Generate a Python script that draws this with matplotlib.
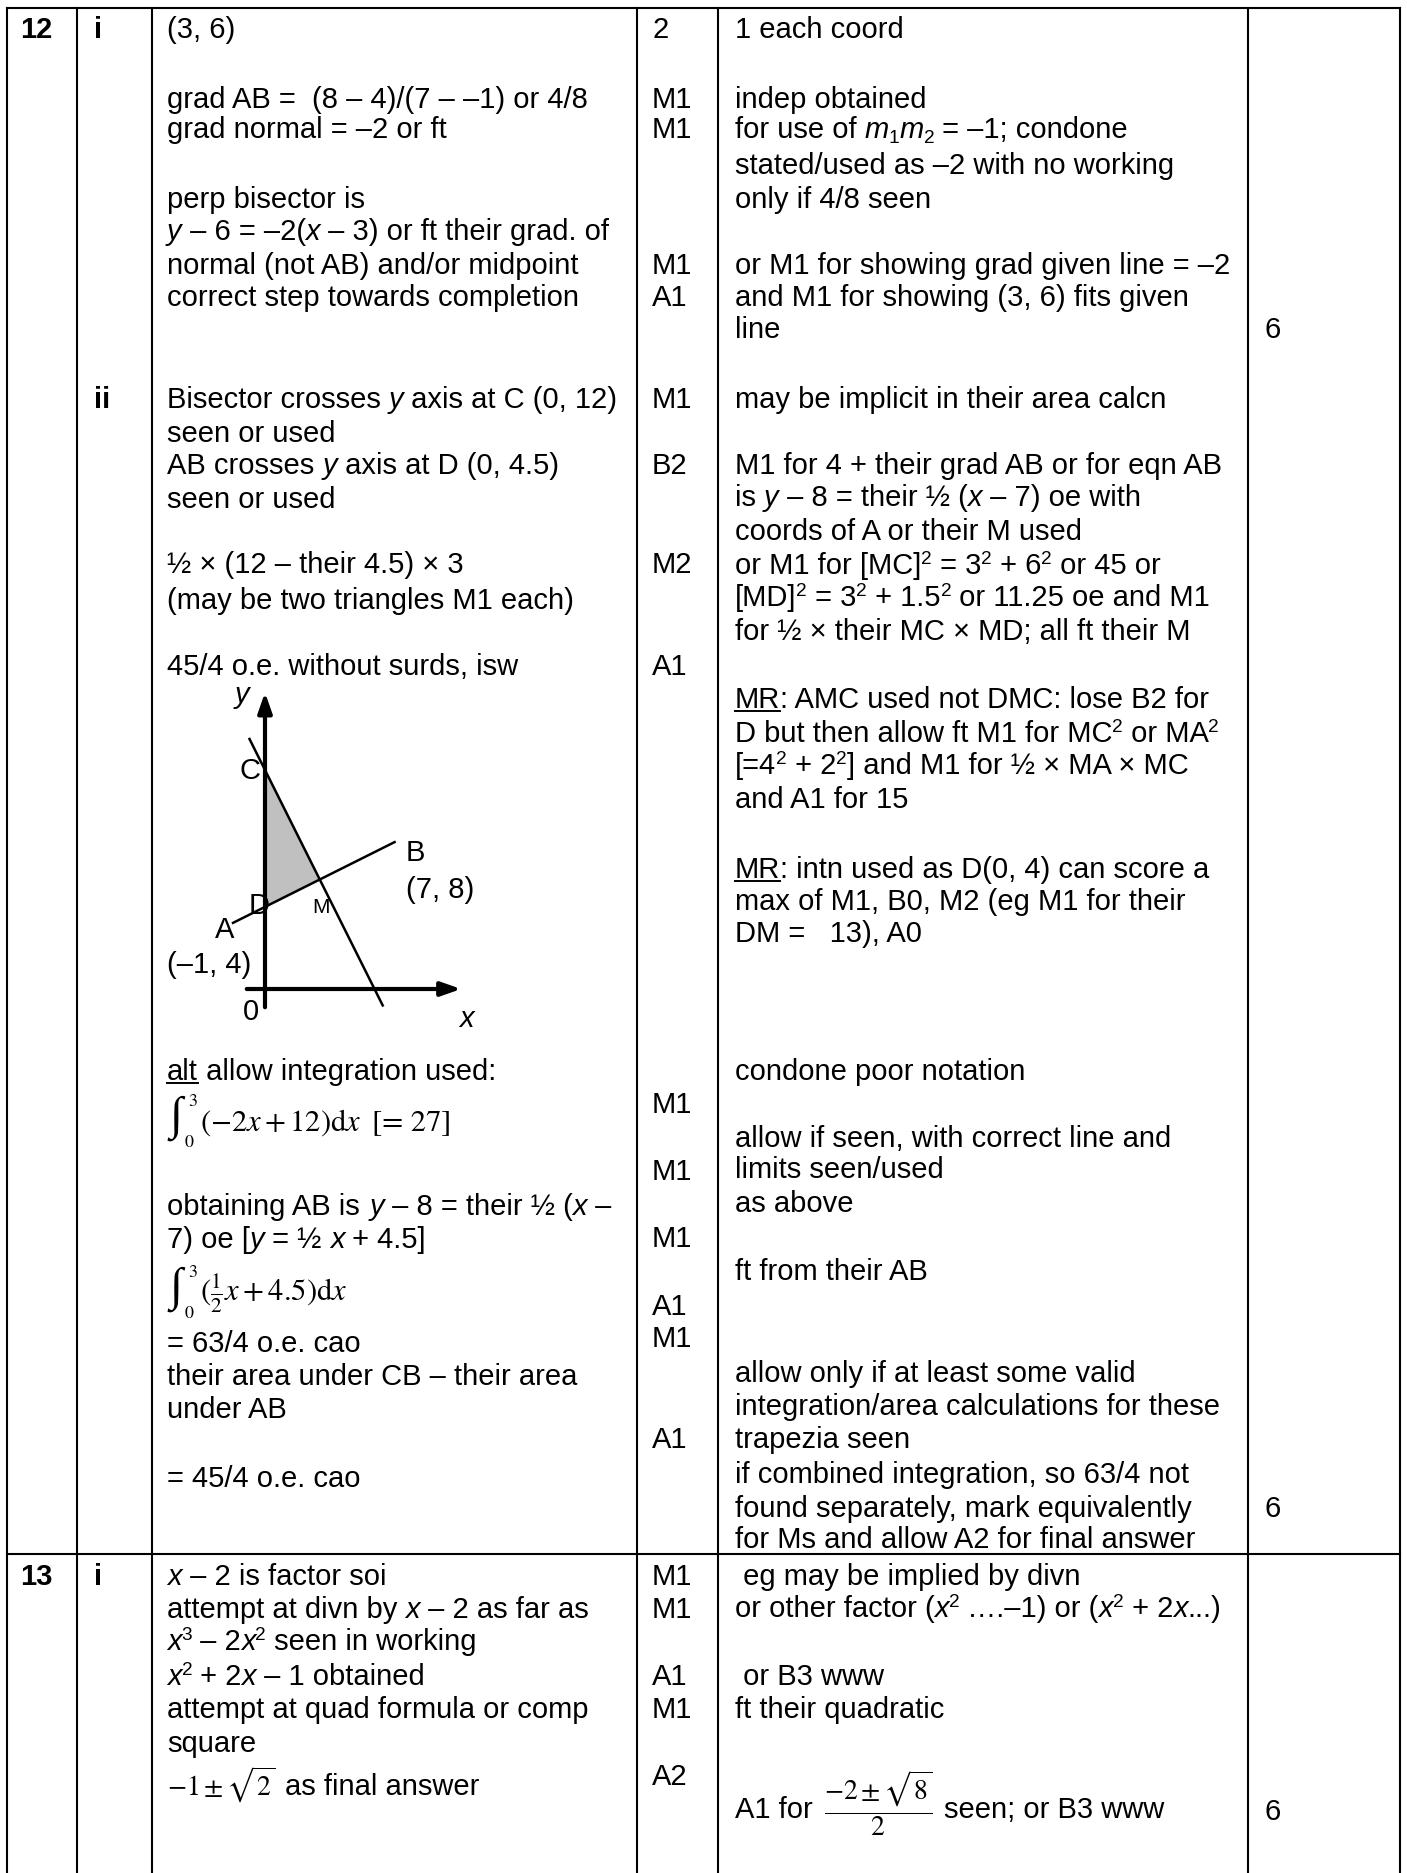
import re

import matplotlib
matplotlib.use("Agg")
import matplotlib.pyplot as plt
from matplotlib.font_manager import FontProperties, findfont
from matplotlib.ft2font import FT2Font

W, H, DPI = 1407, 1874, 100
FAMILY = "Liberation Sans"
SERIF = "STIXGeneral"
FS = 21                      # body text size (pt)
EM = FS * DPI / 72           # em in pixels
BASE = 0.36 * EM             # visual line centre -> baseline

# table grid (pixels)
COL_X = [7, 77, 152, 637, 718, 1248, 1400]
TOP_Y, ROW_SPLIT = 9, 1555
TEXT_X = [20, 94, 167, 652, 735, 1264]

# ---- cell contents: (line centre y, markup) ----------------------------
# markup: {i:..} italic, {^:..} superscript, {_:..} subscript, {u:..} underline
QNUM = [(28, "12"), (1575, "13")]
PART = [(28, "i"), (397, "ii"), (1575, "i")]

ANSWER = [
    (28, "(3, 6)"),
    (97, "grad AB =  (8 – 4)/(7 – –1) or 4/8"),
    (128, "grad normal = –2 or ft"),
    (197, "perp bisector is"),
    (230, "{i:y} – 6 = –2({i:x} – 3) or ft their grad. of"),
    (263, "normal (not AB) and/or midpoint"),
    (295, "correct step towards completion"),
    (397, "Bisector crosses {i:y} axis at C (0, 12)"),
    (431, "seen or used"),
    (463, "AB crosses {i:y} axis at D (0, 4.5)"),
    (498, "seen or used"),
    (563, "½ × (12 – their 4.5) × 3"),
    (599, "(may be two triangles M1 each)"),
    (665, "45/4 o.e. without surds, isw"),
    (1070, "{u:alt} allow integration used:"),
    (1205, "obtaining AB is {i:y} – 8 = their ½ ({i:x} –"),
    (1238, "7) oe [{i:y} = ½ {i:x} + 4.5]"),
    (1342, "= 63/4 o.e. cao"),
    (1375, "their area under CB – their area"),
    (1408, "under AB"),
    (1477, "= 45/4 o.e. cao"),
    (1575, "{i:x} – 2 is factor soi"),
    (1608, "attempt at divn by {i:x} – 2 as far as"),
    (1640, "{i:x}{^:3} – 2{i:x}{^:2} seen in working"),
    (1675, "{i:x}{^:2} + 2{i:x} – 1 obtained"),
    (1708, "attempt at quad formula or comp"),
    (1742, "square"),
]

MARKS = [
    (28, "2"), (97, "M1"), (128, "M1"), (263, "M1"), (295, "A1"),
    (397, "M1"), (463, "B2"), (563, "M2"), (665, "A1"),
    (1103, "M1"), (1170, "M1"), (1237, "M1"), (1305, "A1"), (1337, "M1"),
    (1438, "A1"),
    (1575, "M1"), (1608, "M1"), (1675, "A1"), (1708, "M1"), (1775, "A2"),
]

GUIDANCE = [
    (28, "1 each coord"),
    (97, "indep obtained"),
    (128, "for use of {i:m}{_:1}{i:m}{_:2} = –1; condone"),
    (163, "stated/used as –2 with no working"),
    (197, "only if 4/8 seen"),
    (263, "or M1 for showing grad given line = –2"),
    (295, "and M1 for showing (3, 6) fits given"),
    (328, "line"),
    (397, "may be implicit in their area calcn"),
    (464, "M1 for 4 + their grad AB or for eqn AB"),
    (496, "is {i:y} – 8 = their ½ ({i:x} – 7) oe with"),
    (530, "coords of A or their M used"),
    (564, "or M1 for [MC]{^:2} = 3{^:2} + 6{^:2} or 45 or"),
    (596, "[MD]{^:2} = 3{^:2} + 1.5{^:2} or 11.25 oe and M1"),
    (630, "for ½ × their MC × MD; all ft their M"),
    (698, "{u:MR}: AMC used not DMC: lose B2 for"),
    (732, "D but then allow ft M1 for MC{^:2} or MA{^:2}"),
    (764, "[=4{^:2} + 2{^:2}] and M1 for ½ × MA × MC"),
    (798, "and A1 for 15"),
    (868, "{u:MR}: intn used as D(0, 4) can score a"),
    (900, "max of M1, B0, M2 (eg M1 for their"),
    (932, "DM =   13), A0"),
    (1070, "condone poor notation"),
    (1137, "allow if seen, with correct line and"),
    (1168, "limits seen/used"),
    (1202, "as above"),
    (1270, "ft from their AB"),
    (1372, "allow only if at least some valid"),
    (1405, "integration/area calculations for these"),
    (1438, "trapezia seen"),
    (1473, "if combined integration, so 63/4 not"),
    (1507, "found separately, mark equivalently"),
    (1538, "for Ms and allow A2 for final answer"),
    (1575, " eg may be implied by divn"),
    (1607, "or other factor ({i:x}{^:2} ….–1) or ({i:x}{^:2} + 2{i:x}...)"),
    (1675, " or B3 www"),
    (1708, "ft their quadratic"),
    (1808, "A1 for"),
]
GUIDANCE_TAIL = (944, 1808, "seen; or B3 www")

TOTALS = [(328, "6"), (1507, "6"), (1810, "6")]

# integrals: (centre y, body tex, trailing plain text)
INTEGRALS = [
    (1120, r"$(-2x+12)\mathrm{d}x$", "[= 27]"),
    (1291, r"$(\frac{1}{2}x+4.5)\mathrm{d}x$", ""),
]
INT_LIMITS = ("0", "3")
# other equation objects (x, centre y, tex, size)
EQUATIONS = [
    (167, 1785, r"$-1\pm\sqrt{2}$", 20),
    (824, 1808, r"$\dfrac{-2\pm\sqrt{8}}{2}$", 20),
]
ROW13_TAIL = (285, 1785, "as final answer")

# sketch data
A = (-1, 4)
B = (7, 8)
AB_EXT = (0.75, 0.1)         # how far the drawn AB line runs past A / B
CB_XRANGE = (-0.85, 6.45)
X_AXIS = (-1.0, 10.75)
Y_AXIS = (-1.0, 16.25)

plt.rcParams["font.family"] = FAMILY

fig = plt.figure(figsize=(W / DPI, H / DPI), dpi=DPI)
ax = fig.add_axes([0, 0, 1, 1])
ax.set_xlim(0, W)
ax.set_ylim(H, 0)
ax.axis("off")

_fonts = {}


def advance(text, style, size):
    key = (style, size)
    if key not in _fonts:
        fp = FontProperties(family=FAMILY,
                            style="italic" if style == "i" else "normal",
                            weight="bold" if style == "b" else "normal")
        f = FT2Font(findfont(fp))
        f.set_size(size, DPI)
        _fonts[key] = f
    f = _fonts[key]
    return sum(f.load_char(ord(c)).linearHoriAdvance for c in text) / 65536


def parse(markup):
    out = []
    for chunk in re.split(r"(\{[iu^_]:[^}]*\})", markup):
        if not chunk:
            continue
        if chunk.startswith("{") and chunk[2] == ":":
            out.append((chunk[1], chunk[3:-1]))
        else:
            out.append(("n", chunk))
    return out


def rich(x, yc, markup, bold=False):
    yb = yc + BASE
    for style, text in parse(markup):
        fs, dy = FS, 0
        if style == "^":
            fs, dy = FS * 0.65, -0.36 * EM
        elif style == "_":
            fs, dy = FS * 0.65, 0.14 * EM
        italic = style == "i"
        ax.text(x, yb + dy, text, fontsize=fs, ha="left", va="baseline",
                style="italic" if italic else "normal",
                weight="bold" if bold else "normal")
        w = advance(text, "b" if bold else ("i" if italic else "n"), fs)
        if style == "u":
            ax.plot([x, x + w], [yb + 3.5, yb + 3.5], color="black", lw=1.4)
        x += w


# grid
LW = 1.5
ax.plot([COL_X[0], COL_X[-1]], [TOP_Y, TOP_Y], color="black", lw=LW,
        solid_capstyle="projecting")
ax.plot([COL_X[0], COL_X[-1]], [ROW_SPLIT, ROW_SPLIT], color="black", lw=LW)
for cx in COL_X:
    ax.plot([cx, cx], [TOP_Y, H + 5], color="black", lw=LW,
            solid_capstyle="projecting")

# cell text
for y, s in QNUM:
    rich(TEXT_X[0], y, s, bold=True)
for y, s in PART:
    rich(TEXT_X[1], y, s, bold=True)
for y, s in ANSWER:
    rich(TEXT_X[2], y, s)
for y, s in MARKS:
    rich(TEXT_X[3], y, s)
for y, s in GUIDANCE:
    rich(TEXT_X[4], y, s)
rich(GUIDANCE_TAIL[0], GUIDANCE_TAIL[1], GUIDANCE_TAIL[2])
rich(ROW13_TAIL[0], ROW13_TAIL[1], ROW13_TAIL[2])
for y, s in TOTALS:
    rich(TEXT_X[5], y, s)

# integrals: large upright sign, limits at its right, then the integrand
for yc, body, tail in INTEGRALS:
    ax.text(169, yc + 9, "∫", fontsize=34, ha="left", va="baseline",
            family=["Liberation Serif", "DejaVu Serif"])
    ax.text(189, yc + 23, INT_LIMITS[0], fontsize=13, ha="center",
            va="center", family=SERIF)
    ax.text(193, yc - 18, INT_LIMITS[1], fontsize=13, ha="center",
            va="center", family=SERIF)
    ax.text(200, yc + BASE, body, fontsize=22, ha="left", va="baseline",
            math_fontfamily="stix")
    if tail:
        ax.text(372, yc + BASE, tail, fontsize=22, ha="left", va="baseline",
                family=SERIF)

for x, y, tex, size in EQUATIONS:
    ax.text(x, y + BASE, tex, fontsize=size, ha="left", va="baseline",
            math_fontfamily="stix")

# ---- sketch (roughly to scale) -----------------------------------------
ORIGIN_PX = (265, 990)
PX_PER_UNIT = 18.25
box = (190, 670, 490, 1040)          # x0, y0, x1, y1 in pixels
sk = fig.add_axes([box[0] / W, 1 - box[3] / H,
                   (box[2] - box[0]) / W, (box[3] - box[1]) / H])
sk.set_xlim((box[0] - ORIGIN_PX[0]) / PX_PER_UNIT,
            (box[2] - ORIGIN_PX[0]) / PX_PER_UNIT)
sk.set_ylim((ORIGIN_PX[1] - box[3]) / PX_PER_UNIT,
            (ORIGIN_PX[1] - box[1]) / PX_PER_UNIT)
sk.axis("off")
sk.set_facecolor("none")

m_ab = (B[1] - A[1]) / (B[0] - A[0])
M = ((A[0] + B[0]) / 2, (A[1] + B[1]) / 2)
m_n = -1 / m_ab
C = (0, M[1] - m_n * M[0])
D = (0, A[1] - m_ab * A[0])

sk.fill([C[0], D[0], M[0]], [C[1], D[1], M[1]], color="#c0c0c0", lw=0,
        zorder=1)
xa = [A[0] - AB_EXT[0], B[0] + AB_EXT[1]]
sk.plot(xa, [A[1] + m_ab * (v - A[0]) for v in xa], color="black", lw=1.8,
        zorder=3)
sk.plot(CB_XRANGE, [M[1] + m_n * (v - M[0]) for v in CB_XRANGE],
        color="black", lw=1.8, zorder=3)

arrow = dict(arrowstyle="-|>,head_length=1.0,head_width=0.35", lw=3,
             color="black", shrinkA=0, shrinkB=0, mutation_scale=12)
sk.annotate("", xy=(0, Y_AXIS[1]), xytext=(0, Y_AXIS[0]), arrowprops=arrow,
            zorder=4)
sk.annotate("", xy=(X_AXIS[1], 0), xytext=(X_AXIS[0], 0), arrowprops=arrow,
            zorder=4)

labels = [
    ("C", C, (-15, 0), 21, "normal"),
    ("D", D, (-6, 2), 21, "normal"),
    ("M", M, (1, -27), 15, "normal"),
    ("A", A, (-22, -13), 21, "normal"),
    ("(–1, 4)", A, (-38, -48), 21, "normal"),
    ("B", B, (23, -9), 21, "normal"),
    ("(7, 8)", B, (47, -46), 21, "normal"),
    ("0", (0, 0), (-14, -22), 21, "normal"),
    ("y", (0, Y_AXIS[1]), (-23, -2), 21, "italic"),
    ("x", (X_AXIS[1], 0), (5, -29), 21, "italic"),
]
for txt, pt, off, size, st in labels:
    sk.annotate(txt, xy=pt, xytext=off, textcoords="offset pixels",
                ha="center", va="center", fontsize=size, style=st, zorder=5)

fig.savefig("out.png", dpi=DPI)
